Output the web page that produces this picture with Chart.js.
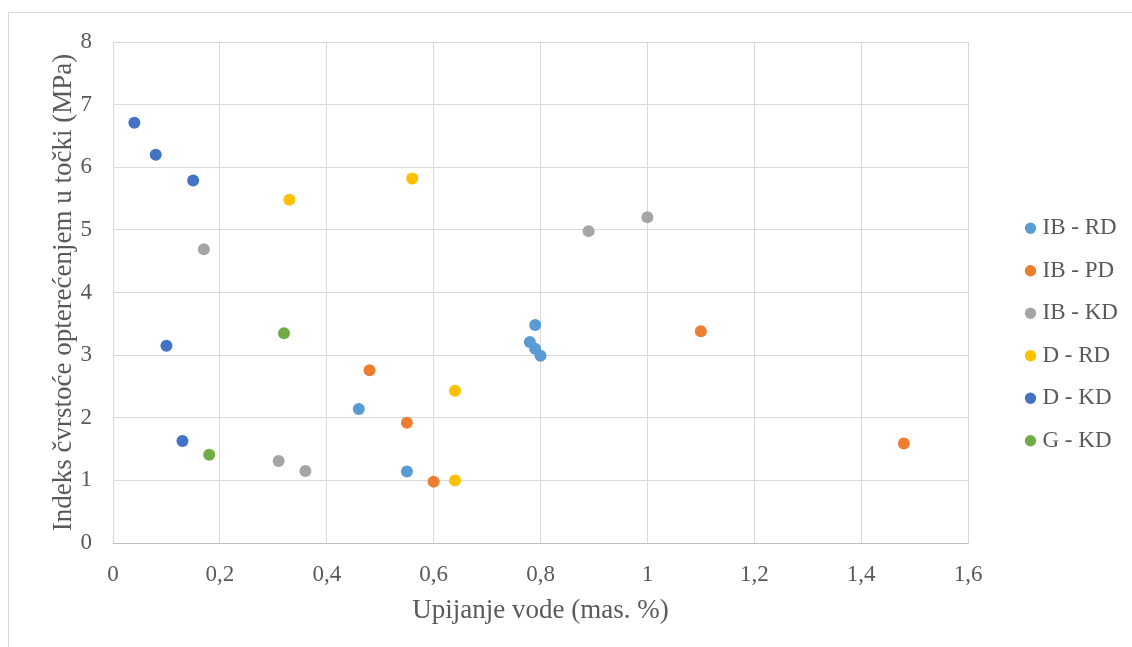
<!DOCTYPE html>
<html>
<head>
<meta charset="utf-8">
<script src="https://cdn.jsdelivr.net/npm/chart.js@4/dist/chart.umd.min.js"></script>
<style>
  html, body { margin: 0; padding: 0; background: #fff; }
  #wrap { position: relative; width: 1132px; height: 647px; }
  #frame { position: absolute; left: 8px; top: 12px; width: 1130px; height: 640px; border: 1px solid #D9D9D9; box-sizing: border-box; }
  canvas { position: absolute; left: 0; top: 0; }
</style>
</head>
<body>
<div id="wrap">
  <div id="frame"></div>
  <canvas id="c" width="1132" height="647"></canvas>
</div>
<script>
const seriesNames = ['IB - RD', 'IB - PD', 'IB - KD', 'D - RD', 'D - KD', 'G - KD'];
const seriesColors = ['#5B9BD5', '#ED7D31', '#A5A5A5', '#FFC000', '#4472C4', '#70AD47'];

const ibRdX = [0.46, 0.55, 0.78, 0.79, 0.79, 0.80];
const ibRdY = [2.14, 1.14, 3.21, 3.10, 3.48, 2.99];
const ibPdX = [0.48, 0.55, 0.60, 1.10, 1.48];
const ibPdY = [2.76, 1.92, 0.98, 3.38, 1.59];
const ibKdX = [0.17, 0.31, 0.36, 0.89, 1.00];
const ibKdY = [4.69, 1.31, 1.15, 4.98, 5.20];
const dRdX = [0.33, 0.56, 0.64, 0.64];
const dRdY = [5.48, 5.82, 2.43, 1.00];
const dKdX = [0.04, 0.08, 0.15, 0.10, 0.13];
const dKdY = [6.71, 6.20, 5.79, 3.15, 1.63];
const gKdX = [0.18, 0.32];
const gKdY = [1.41, 3.35];

const xTitle = 'Upijanje vode (mas. %)';
const yTitle = 'Indeks čvrstoće opterećenjem u točki (MPa)';

const allX = [ibRdX, ibPdX, ibKdX, dRdX, dKdX, gKdX];
const allY = [ibRdY, ibPdY, ibKdY, dRdY, dKdY, gKdY];

const datasets = seriesNames.map((name, i) => ({
  label: name,
  data: allX[i].map((x, j) => ({ x: x, y: allY[i][j] })),
  backgroundColor: seriesColors[i],
  borderColor: seriesColors[i],
  pointRadius: 6,
  pointHoverRadius: 6,
  pointBorderWidth: 0,
  pointStyle: 'circle'
}));

const FONT = "'Liberation Serif', 'Times New Roman', serif";
const TXT = '#595959';
const LEGEND_W = 164;      // space right of the plot area
const LEGEND_ITEM_X = 1030;
const LEGEND_PAD = 19.5;

const legendPlacer = {
  id: 'legendPlacer',
  beforeLayout(chart) {
    const lg = chart.legend;
    if (lg && !lg.__patched) {
      const orig = lg.fit;
      lg.fit = function () { orig.call(this); this.width = LEGEND_W; };
      lg.__patched = true;
    }
  },
  afterLayout(chart) {
    const lg = chart.legend;
    if (lg) {
      lg.left = LEGEND_ITEM_X - LEGEND_PAD;
      lg.right = chart.width;
    }
  }
};

new Chart(document.getElementById('c'), {
  type: 'scatter',
  data: { datasets: datasets },
  plugins: [legendPlacer],
  options: {
    responsive: false,
    animation: false,
    layout: { padding: { top: 42, left: 40, right: 0, bottom: 20 } },
    plugins: {
      tooltip: { enabled: false },
      legend: {
        position: 'right',
        align: 'center',
        labels: {
          usePointStyle: true,
          pointStyle: 'circle',
          boxWidth: 1,
          boxHeight: 8,
          padding: LEGEND_PAD,
          color: TXT,
          font: { family: FONT, size: 23 }
        }
      }
    },
    scales: {
      x: {
        type: 'linear',
        min: 0, max: 1.6,
        afterFit: (s) => { s.height = 84; },
        ticks: {
          stepSize: 0.2,
          padding: 18,
          color: TXT,
          font: { family: FONT, size: 23 },
          callback: (v) => String(Math.round(v * 10) / 10).replace('.', ',')
        },
        grid: { color: '#D9D9D9', lineWidth: 1, drawTicks: false },
        border: { color: '#BFBFBF', width: 1 },
        title: {
          display: true, text: xTitle, color: TXT,
          font: { family: FONT, size: 27 },
          padding: { top: 0, bottom: 0 }
        }
      },
      y: {
        type: 'linear',
        min: 0, max: 8,
        afterFit: (s) => { s.width = 73; },
        ticks: {
          stepSize: 1,
          padding: 21,
          color: TXT,
          font: { family: FONT, size: 23 }
        },
        grid: { color: '#D9D9D9', lineWidth: 1, drawTicks: false },
        border: { display: false },
        title: {
          display: true, text: yTitle, color: TXT,
          font: { family: FONT, size: 27 },
          padding: { top: 8, bottom: 0 }
        }
      }
    }
  }
});
</script>
</body>
</html>
